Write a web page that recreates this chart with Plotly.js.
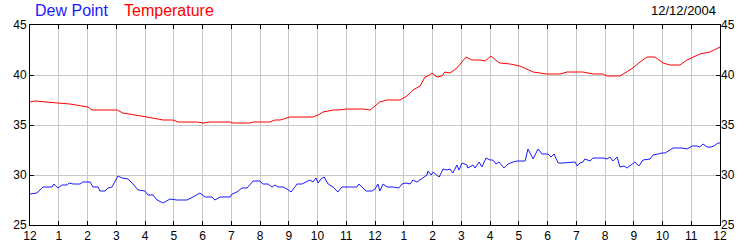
<!DOCTYPE html>
<html>
<head>
<meta charset="utf-8">
<script src="https://cdn.plot.ly/plotly-3.0.1.min.js"></script>
<style>html,body{margin:0;padding:0;background:#fff;}#chart{width:750px;height:250px;}</style>
</head>
<body>
<div id="chart"></div>
<script>
// Hours since midnight (0 = 12 AM, 24 = next 12 AM)
var tempHours = [0.00,0.17,0.97,1.39,2.02,2.16,3.03,3.23,4.07,4.63,4.97,5.15,5.81,6.02,6.26,6.96,7.06,7.65,7.76,8.35,8.52,8.70,9.04,9.84,10.02,10.19,10.54,10.71,11.03,11.58,11.83,12.00,12.17,12.42,12.87,13.11,13.32,13.57,13.74,13.84,13.98,14.16,14.33,14.43,14.61,14.85,15.03,15.17,15.37,15.65,15.83,16.03,16.28,16.35,16.70,17.04,17.50,17.98,18.43,18.68,19.23,19.58,19.93,20.07,20.52,20.77,20.97,21.22,21.46,21.74,22.02,22.26,22.61,22.85,23.30,23.65,24.00];
var tempValues = [37.3,37.4,37.2,37.1,36.8,36.5,36.5,36.2,35.8,35.5,35.5,35.3,35.3,35.2,35.3,35.3,35.2,35.2,35.3,35.3,35.5,35.5,35.8,35.8,36.0,36.3,36.5,36.5,36.6,36.6,36.5,36.9,37.3,37.5,37.5,37.9,38.5,38.9,39.8,39.9,40.2,39.8,39.9,40.3,40.2,40.7,41.3,41.8,41.5,41.5,41.4,41.9,41.3,41.2,41.1,40.9,40.3,40.1,40.1,40.3,40.3,40.1,40.1,39.9,39.9,40.3,40.7,41.3,41.8,41.8,41.2,41.0,41.0,41.5,42.1,42.3,42.8];

var dewHours = [0.00,0.24,0.45,0.77,0.83,0.97,1.11,1.29,1.36,1.50,1.74,1.84,2.09,2.19,2.37,2.43,2.61,2.71,2.85,3.06,3.20,3.41,3.58,3.76,4.00,4.10,4.28,4.42,4.63,4.77,4.87,5.11,5.46,5.67,5.91,6.09,6.33,6.43,6.61,6.96,7.03,7.20,7.37,7.55,7.76,8.00,8.10,8.28,8.42,8.52,8.63,8.80,8.94,9.08,9.29,9.46,9.63,9.74,9.84,9.95,10.02,10.12,10.23,10.37,10.54,10.71,10.85,11.37,11.44,11.55,11.69,11.90,12.00,12.10,12.17,12.28,12.42,12.63,12.83,12.94,13.08,13.22,13.32,13.46,13.63,13.81,13.84,13.95,14.02,14.23,14.37,14.50,14.61,14.71,14.85,14.92,15.03,15.20,15.23,15.41,15.48,15.62,15.72,15.86,16.00,16.10,16.21,16.31,16.49,16.63,16.80,16.94,17.22,17.32,17.50,17.67,17.81,18.02,18.12,18.23,18.37,18.54,18.96,19.03,19.13,19.23,19.30,19.48,19.58,19.93,20.07,20.17,20.28,20.42,20.52,20.66,20.77,20.94,21.04,21.18,21.32,21.57,21.67,21.84,21.98,22.09,22.19,22.37,22.68,22.85,23.03,23.20,23.30,23.41,23.55,23.69,23.79,23.93,24.00];
var dewValues = [28.1,28.2,28.8,28.8,29.1,28.7,29.0,29.0,29.2,29.1,29.1,29.3,29.3,28.8,28.8,28.4,28.4,28.7,28.8,29.9,29.7,29.6,29.1,28.5,28.4,28.0,28.0,27.5,27.2,27.4,27.6,27.5,27.5,27.8,28.2,27.8,27.8,27.5,27.8,27.8,28.1,28.3,28.7,28.7,29.4,29.4,29.1,29.1,28.8,29.0,28.8,28.8,28.6,28.3,29.1,29.1,29.3,29.5,29.3,29.7,29.2,29.6,29.8,29.1,28.8,28.3,28.8,28.8,29.1,28.8,28.4,28.4,28.6,29.1,28.4,29.1,28.8,28.8,28.7,29.1,29.2,29.1,29.5,29.3,29.6,30.0,30.4,30.0,30.3,29.8,30.6,30.5,30.6,30.2,31.0,30.5,31.2,31.0,30.7,31.0,30.7,31.3,30.8,31.7,31.5,31.5,31.1,31.3,30.7,31.1,31.3,31.4,31.4,32.6,31.6,32.6,32.1,32.1,31.8,32.1,31.2,31.2,31.3,30.9,31.2,31.3,31.6,31.4,31.7,31.7,31.6,31.8,31.4,31.8,30.8,30.9,30.7,31.1,31.3,30.9,31.5,31.6,32.0,32.1,32.2,32.2,32.4,32.7,32.7,32.6,32.9,32.9,32.8,33.1,32.8,32.8,32.9,33.2,33.2];

var hourTicks = [0,1,2,3,4,5,6,7,8,9,10,11,12,13,14,15,16,17,18,19,20,21,22,23,24];
var hourLabels = ['12','1','2','3','4','5','6','7','8','9','10','11','12','1','2','3','4','5','6','7','8','9','10','11','12'];
var yTicks = [25,30,35,40,45];
var seriesNames = ['Dew Point','Temperature'];
var dateLabel = '12/12/2004';

var blue = '#1a1aff', red = '#ff0000';
var font = {family: 'Liberation Sans, Arial, sans-serif', size: 12, color: '#000'};

var traces = [
  {x: dewHours, y: dewValues, type: 'scatter', mode: 'lines', name: seriesNames[0],
   line: {color: blue, width: 1}, hoverinfo: 'skip'},
  {x: tempHours, y: tempValues, type: 'scatter', mode: 'lines', name: seriesNames[1],
   line: {color: red, width: 1}, hoverinfo: 'skip'},
  {x: tempHours, y: tempValues, type: 'scatter', mode: 'lines', yaxis: 'y2',
   line: {color: 'rgba(0,0,0,0)', width: 0}, hoverinfo: 'skip', showlegend: false}
];

var layout = {
  width: 750, height: 250,
  margin: {l: 30, r: 30, t: 25, b: 25, pad: 0},
  paper_bgcolor: '#fff', plot_bgcolor: '#fff',
  showlegend: false,
  font: font,
  xaxis: {
    range: [0, 24], tickvals: hourTicks, ticktext: hourLabels,
    showgrid: true, gridcolor: '#c8c8c8', gridwidth: 1,
    zeroline: false, showline: true, linecolor: '#000', linewidth: 1, mirror: 'ticks',
    ticks: 'inside', ticklen: 4, tickcolor: '#000', tickfont: font
  },
  yaxis: {
    range: [25, 45], tickvals: yTicks,
    showgrid: true, gridcolor: '#c8c8c8', gridwidth: 1,
    zeroline: false, showline: true, linecolor: '#000', linewidth: 1, mirror: 'ticks',
    ticks: 'inside', ticklen: 4, tickcolor: '#000', tickfont: font
  },
  yaxis2: {
    range: [25, 45], tickvals: yTicks, overlaying: 'y', side: 'right',
    showgrid: false, zeroline: false, showline: false, ticks: '', tickfont: font
  },
  annotations: [
    {xref: 'paper', yref: 'paper', x: 0.004, y: 1.07, xanchor: 'left', yanchor: 'middle',
     text: seriesNames[0], showarrow: false, font: {family: font.family, size: 16, color: blue}},
    {xref: 'paper', yref: 'paper', x: 0.134, y: 1.07, xanchor: 'left', yanchor: 'middle',
     text: seriesNames[1], showarrow: false, font: {family: font.family, size: 16, color: red}},
    {xref: 'paper', yref: 'paper', x: 0.997, y: 1.07, xanchor: 'right', yanchor: 'middle',
     text: dateLabel, showarrow: false, font: {family: font.family, size: 13, color: '#000'}}
  ]
};

Plotly.newPlot('chart', traces, layout, {staticPlot: true, displayModeBar: false});
</script>
</body>
</html>
